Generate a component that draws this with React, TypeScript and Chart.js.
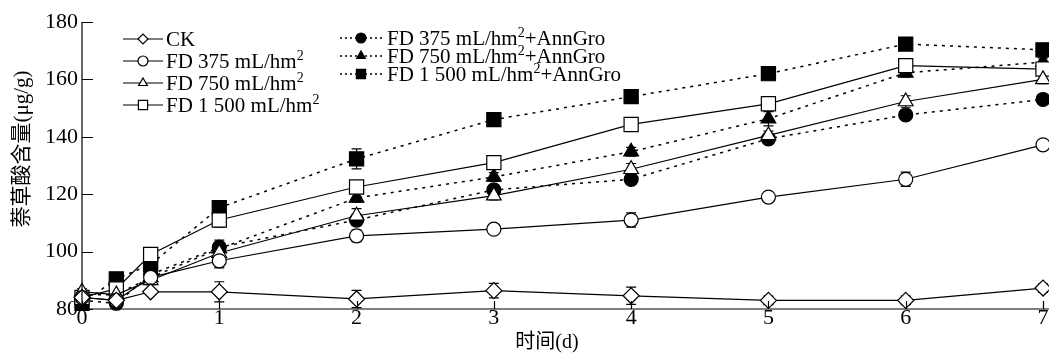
import React, { useEffect, useRef } from "react";
import { Chart, registerables } from "chart.js";

Chart.register(...registerables);

const days = [0, 0.25, 0.5, 1, 2, 3, 4, 5, 6, 7];
const xTicks = [0, 1, 2, 3, 4, 5, 6, 7];
const yTicks = [80, 100, 120, 140, 160, 180];
const xTitle = "时间(d)";
const yTitle = "萘草酸含量(μg/g)";

const ck = [84, 83, 86, 86, 83.5, 86.4, 84.6, 83, 83, 87.3];
const fd375 = [84, 83, 91, 96.8, 105.5, 107.8, 111, 119, 125.2, 137.2];
const fd750 = [86, 85, 90, 99.5, 112.5, 119.5, 128.7, 140.5, 152.3, 160];
const fd1500 = [84, 87, 99, 111, 122.5, 131, 144.3, 151.5, 164.8, 163.6];
const fd375A = [83, 82, 92, 101.5, 111, 121.5, 125.2, 139.3, 147.6, 153];
const fd750A = [85, 85, 91, 101, 118.7, 126, 134.8, 146.3, 162.3, 166];
const fd1500A = [82, 90.5, 95.5, 115.3, 132.3, 146, 154, 162, 172.3, 170.3];

const ckErr = [1.5, 1, 1, 3.5, 3, 2.5, 3, 1.5, 1.5, 1.5];
const fd375Err = [1, 1, 1.5, 2.5, 2, 1.5, 2.5, 1, 2.5, 1.5];
const fd750Err = [1, 1, 1.5, 2, 2.5, 1.5, 2, 1.5, 2, 1.5];
const fd1500Err = [1, 1, 1.5, 2.5, 1.5, 1.5, 1.5, 1.5, 1.5, 1.5];
const fd375AErr = [1, 1, 1.5, 2.5, 2, 1.5, 1.5, 1.5, 1.5, 1.5];
const fd750AErr = [1, 1, 1.5, 1.5, 1.5, 1.5, 1.5, 2.5, 1.5, 1.5];
const fd1500AErr = [1, 1, 1.5, 1.5, 3.5, 1, 1, 1, 1, 1];

const labels = [
  "CK",
  "FD 375 mL/hm²",
  "FD 750 mL/hm²",
  "FD 1 500 mL/hm²",
  "FD 375 mL/hm²+AnnGro",
  "FD 750 mL/hm²+AnnGro",
  "FD 1 500 mL/hm²+AnnGro",
];

const SERIF = "'Liberation Serif', 'Times New Roman', 'Noto Sans CJK SC', serif";

type S = {
  label: string;
  data: number[];
  err: number[];
  style: string;
  r: number;
  filled: boolean;
  dashed: boolean;
};

const seriesList: S[] = [
  { label: labels[0], data: ck, err: ckErr, style: "rectRot", r: 8, filled: false, dashed: false },
  { label: labels[1], data: fd375, err: fd375Err, style: "circle", r: 7, filled: false, dashed: false },
  { label: labels[2], data: fd750, err: fd750Err, style: "triangle", r: 8.5, filled: false, dashed: false },
  { label: labels[3], data: fd1500, err: fd1500Err, style: "rect", r: 10, filled: false, dashed: false },
  { label: labels[4], data: fd375A, err: fd375AErr, style: "circle", r: 7, filled: true, dashed: true },
  { label: labels[5], data: fd750A, err: fd750AErr, style: "triangle", r: 8.5, filled: true, dashed: true },
  { label: labels[6], data: fd1500A, err: fd1500AErr, style: "rect", r: 10, filled: true, dashed: true },
];

function marker(ctx: CanvasRenderingContext2D, style: string, x: number, y: number, r: number, filled: boolean) {
  ctx.save();
  ctx.beginPath();
  if (style === "circle") {
    ctx.arc(x, y, r, 0, Math.PI * 2);
  } else if (style === "rect") {
    const s = r * Math.SQRT1_2;
    ctx.rect(x - s, y - s, 2 * s, 2 * s);
  } else if (style === "rectRot") {
    ctx.moveTo(x - r, y);
    ctx.lineTo(x, y - r);
    ctx.lineTo(x + r, y);
    ctx.lineTo(x, y + r);
    ctx.closePath();
  } else if (style === "triangle") {
    for (let k = 0; k < 3; k++) {
      const a = (k * 2 * Math.PI) / 3;
      const px = x + Math.sin(a) * r;
      const py = y - Math.cos(a) * r;
      if (k === 0) ctx.moveTo(px, py);
      else ctx.lineTo(px, py);
    }
    ctx.closePath();
  }
  ctx.fillStyle = filled ? "#000" : "#fff";
  ctx.fill();
  ctx.lineWidth = 1.2;
  ctx.strokeStyle = "#000";
  ctx.stroke();
  ctx.restore();
}

const errorBarPlugin = {
  id: "errorBars",
  beforeDatasetsDraw(chart: any) {
    const ctx = chart.ctx as CanvasRenderingContext2D;
    const yScale = chart.scales.y;
    ctx.save();
    ctx.strokeStyle = "#000";
    ctx.lineWidth = 1.2;
    chart.data.datasets.forEach((ds: any, i: number) => {
      const meta = chart.getDatasetMeta(i);
      const errs: number[] = ds.errs;
      meta.data.forEach((pt: any, j: number) => {
        const v = ds.data[j].y;
        const e = errs[j];
        const yTop = yScale.getPixelForValue(v + e);
        const yBot = Math.min(yScale.getPixelForValue(v - e), yScale.bottom);
        const x = pt.x;
        ctx.beginPath();
        ctx.moveTo(x, yTop);
        ctx.lineTo(x, yBot);
        ctx.moveTo(x - 5, yTop);
        ctx.lineTo(x + 5, yTop);
        if (yBot < yScale.bottom) {
          ctx.moveTo(x - 5, yBot);
          ctx.lineTo(x + 5, yBot);
        }
        ctx.stroke();
      });
    });
    ctx.restore();
  },
};

const axisPlugin = {
  id: "axisTicksInside",
  afterDraw(chart: any) {
    const ctx = chart.ctx as CanvasRenderingContext2D;
    const { x, y } = chart.scales;
    const area = chart.chartArea;
    ctx.save();
    ctx.strokeStyle = "#000";
    ctx.lineWidth = 1.2;
    ctx.beginPath();
    ctx.moveTo(area.left, area.top);
    ctx.lineTo(area.left, area.bottom);
    ctx.lineTo(chart.width, area.bottom);
    yTicks.forEach((v) => {
      const py = Math.round(y.getPixelForValue(v)) + 0.5;
      ctx.moveTo(area.left, py);
      ctx.lineTo(area.left + 11, py);
    });
    xTicks.forEach((v) => {
      const px = Math.round(x.getPixelForValue(v)) + 0.5;
      ctx.moveTo(px, area.bottom);
      ctx.lineTo(px, area.bottom - 8);
    });
    ctx.stroke();

    ctx.fillStyle = "#000";
    ctx.textAlign = "center";
    ctx.textBaseline = "middle";
    ctx.font = `20px ${SERIF}`;
    ctx.fillText(xTitle, 547, 343);
    ctx.save();
    ctx.translate(22, 149);
    ctx.rotate(-Math.PI / 2);
    ctx.font = `21px ${SERIF}`;
    ctx.fillText(yTitle, 0, 0);
    ctx.restore();
    ctx.restore();
  },
};

function legendText(ctx: CanvasRenderingContext2D, text: string, x: number, y: number) {
  const idx = text.indexOf("²");
  ctx.font = `21px ${SERIF}`;
  ctx.textBaseline = "middle";
  ctx.textAlign = "left";
  ctx.fillStyle = "#000";
  if (idx < 0) {
    ctx.fillText(text, x, y);
    return;
  }
  const a = text.slice(0, idx);
  const b = text.slice(idx + 1);
  ctx.fillText(a, x, y);
  let cx = x + ctx.measureText(a).width;
  ctx.font = `14px ${SERIF}`;
  ctx.fillText("2", cx, y - 6);
  cx += ctx.measureText("2").width;
  ctx.font = `21px ${SERIF}`;
  ctx.fillText(b, cx, y);
}

const legendPlugin = {
  id: "customLegend",
  afterDraw(chart: any) {
    const ctx = chart.ctx as CanvasRenderingContext2D;
    ctx.save();
    const leftRows = [39, 61, 83, 105];
    const rightRows = [38, 56, 74];
    seriesList.forEach((s, i) => {
      const isRight = i >= 4;
      const y = isRight ? rightRows[i - 4] : leftRows[i];
      const x0 = isRight ? 340 : 123;
      const x1 = isRight ? 382 : 163;
      const mx = (x0 + x1) / 2;
      ctx.save();
      ctx.strokeStyle = "#000";
      ctx.lineWidth = isRight ? 1.3 : 1.2;
      ctx.setLineDash(isRight ? [2, 3] : []);
      ctx.beginPath();
      ctx.moveTo(x0, y);
      ctx.lineTo(x1, y);
      ctx.stroke();
      ctx.restore();
      marker(ctx, s.style, mx, y, s.style === "rect" ? 6.5 : 5, s.filled);
      legendText(ctx, s.label, isRight ? 387 : 166, y + 1);
    });
    ctx.restore();
  },
};

export default function App() {
  const ref = useRef<HTMLCanvasElement | null>(null);

  useEffect(() => {
    if (!ref.current) return;
    const datasets = seriesList.map((s) => ({
      label: s.label,
      data: days.map((d, j) => ({ x: d, y: s.data[j] })),
      errs: s.err,
      borderColor: "#000",
      borderWidth: s.dashed ? 1.5 : 1.2,
      borderDash: s.dashed ? [3, 5] : [],
      pointStyle: s.style,
      pointRadius: s.r,
      pointBorderWidth: 1.2,
      pointBorderColor: "#000",
      pointBackgroundColor: s.filled ? "#000" : "#fff",
      backgroundColor: s.filled ? "#000" : "#fff",
      fill: false,
      tension: 0,
      clip: false as any,
    }));

    const chart = new Chart(ref.current, {
      type: "line",
      data: { datasets: datasets as any },
      plugins: [errorBarPlugin, axisPlugin, legendPlugin],
      options: {
        animation: false,
        responsive: false,
        maintainAspectRatio: false,
        events: [],
        layout: { autoPadding: false, padding: { top: 22, right: 6, left: 0, bottom: 0 } },
        plugins: {
          legend: { display: false },
          tooltip: { enabled: false },
        },
        scales: {
          x: {
            type: "linear",
            min: 0,
            max: 7,
            border: { display: false },
            grid: { display: false, drawTicks: false },
            afterBuildTicks: (s: any) => {
              s.ticks = xTicks.map((v) => ({ value: v }));
            },
            afterFit: (s: any) => {
              s.height = 45;
              s.paddingRight = 0;
              s.paddingLeft = 0;
            },
            ticks: {
              color: "#000",
              font: { family: SERIF, size: 22, lineHeight: 1 },
              padding: -2,
              maxRotation: 0,
              autoSkip: false,
            },
          },
          y: {
            type: "linear",
            min: 80,
            max: 180,
            border: { display: false },
            grid: { display: false, drawTicks: false },
            afterBuildTicks: (s: any) => {
              s.ticks = yTicks.map((v) => ({ value: v }));
            },
            afterFit: (s: any) => {
              s.width = 82;
            },
            ticks: {
              color: "#000",
              font: { family: SERIF, size: 22 },
              padding: 4,
              autoSkip: false,
            },
          },
        },
      },
    });
    return () => chart.destroy();
  }, []);

  return (
    <div style={{ position: "absolute", left: 0, top: 0, width: 1049, height: 354, background: "#fff" }}>
      <canvas ref={ref} width={1049} height={354} style={{ width: 1049, height: 354 }} />
    </div>
  );
}
